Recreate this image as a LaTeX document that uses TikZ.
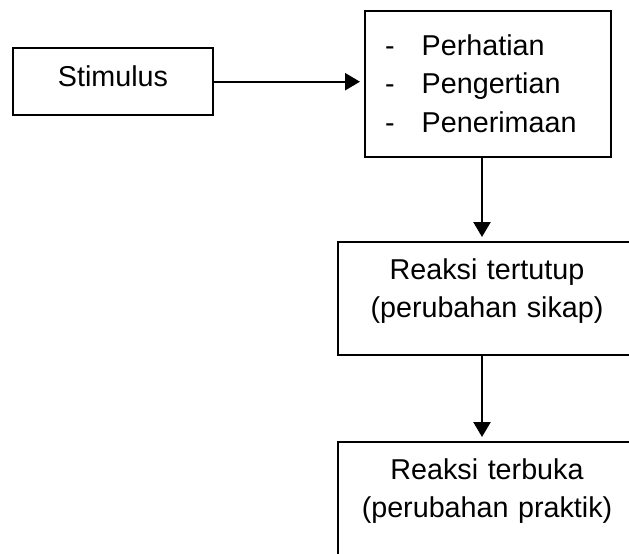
\documentclass[tikz,border=0pt]{standalone}
\usepackage{fontspec}
\setmainfont{Liberation Sans}
\usetikzlibrary{arrows.meta}

\begin{document}
\begin{tikzpicture}[x=1pt,y=-1pt,
    kotak/.style={draw,line width=2.4pt,inner ysep=0pt,font=\fontsize{28.7}{38.5}\selectfont},
    reaksi/.style={kotak,anchor=north,text width=278pt,inner xsep=10pt,align=center,text height=37pt,text depth=76pt},
    panah/.style={line width=2.4pt,-{Triangle[length=15pt,width=17pt]},shorten >=4pt}]
    \useasboundingbox (0,0) rectangle (629,554);
    \node[kotak,anchor=north,minimum width=200pt,text height=38pt,text depth=29pt] (stimulus) at (113,47) {Stimulus};
    \node[kotak,anchor=north west,text width=206pt,inner xsep=20pt,align=left,text height=44pt,text depth=102pt] (proses) at (364,10)
        {-\hspace{27pt}Perhatian\\-\hspace{27pt}Pengertian\\-\hspace{27pt}Penerimaan};
    \node[reaksi] (tertutup) at (487,241) {Reaksi tertutup\\(perubahan sikap)};
    \node[reaksi] (terbuka) at (487,441) {Reaksi terbuka\\(perubahan praktik)};
    \draw[panah] (stimulus.east) -- (stimulus.east -| proses.west);
    \draw[panah] ([xshift=-5pt]tertutup.north |- proses.south) -- ([xshift=-5pt]tertutup.north);
    \draw[panah] ([xshift=-5pt]tertutup.south) -- ([xshift=-5pt]terbuka.north);
\end{tikzpicture}
\end{document}
